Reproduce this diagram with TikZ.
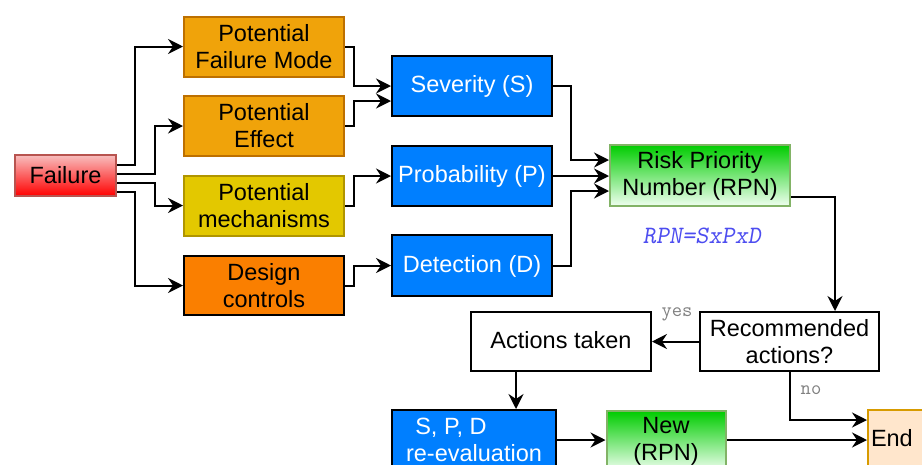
\documentclass[tikz,border=0pt]{standalone}
\usepackage{fontspec}
\setmainfont{Liberation Sans}
\usetikzlibrary{arrows.meta}
\definecolor{orA}{HTML}{F0A30A}
\definecolor{orAb}{HTML}{BD7000}
\definecolor{yel}{HTML}{E3C800}
\definecolor{yelb}{HTML}{B09500}
\definecolor{orD}{HTML}{FA7F00}
\definecolor{blu}{HTML}{007FFF}
\definecolor{grnb}{HTML}{82B366}
\definecolor{grnt}{HTML}{00CC00}
\definecolor{grnbot}{HTML}{F0FFF0}
\definecolor{endf}{HTML}{FFE6CC}
\definecolor{endb}{HTML}{D79B00}
\definecolor{redb}{HTML}{B85450}
\definecolor{redt}{HTML}{F8BEBE}
\definecolor{formc}{HTML}{4D4DF0}
\definecolor{lblc}{HTML}{808080}
\tikzset{
  box/.style={draw, line width=2pt, align=center, inner sep=0pt,
    font=\fontsize{23.5pt}{27pt}\selectfont},
  oneline/.style={text height=19pt, text depth=5.5pt},
  conn/.style={draw, line width=2pt, -{Stealth[length=15pt,width=15pt,inset=5pt]}},
  lbl/.style={font=\ttfamily\fontsize{20pt}{22pt}\selectfont, text=lblc, inner sep=0pt},
}
\begin{document}
\begin{tikzpicture}[x=1pt,y=-1pt]
\useasboundingbox (0,0) rectangle (922,464);
% nodes
\node[box, draw=redb, line width=2pt, top color=redt, bottom color=red,
  minimum width=101pt, minimum height=41pt] (fail) at (65.5,175.5) {Failure};
\node[box, draw=orAb, fill=orA, minimum width=160pt, minimum height=60pt] (pfm) at (264,46.5) {Potential\\Failure Mode};
\node[box, draw=orAb, fill=orA, minimum width=160pt, minimum height=60pt] (pe) at (264,126) {Potential\\Effect};
\node[box, draw=yelb, fill=yel, minimum width=160pt, minimum height=60pt] (pm) at (264,205.5) {Potential\\mechanisms};
\node[box, fill=orD, minimum width=160pt, minimum height=59pt] (dc) at (264,285.5) {Design\\controls};
\node[box, oneline, fill=blu, text=white, minimum width=160pt, minimum height=60pt] (sev) at (472,86) {Severity (S)};
\node[box, oneline, fill=blu, text=white, minimum width=160pt, minimum height=60pt] (prob) at (472,176) {Probability (P)};
\node[box, oneline, fill=blu, text=white, minimum width=160pt, minimum height=61pt] (det) at (472,265.5) {Detection (D)};
\node[box, draw=grnb, top color=grnt, bottom color=grnbot, minimum width=180pt, minimum height=61pt] (rpn) at (700,175.5) {Risk Priority\\Number (RPN)};
\node[font=\ttfamily\slshape\fontsize{25pt}{27pt}\selectfont, text=formc, inner sep=0pt] (formula) at (702,236) {RPN=SxPxD};
\node[box, fill=white, minimum width=179pt, minimum height=59pt] (rec) at (789.5,341.5) {Recommended\\actions?};
\node[box, oneline, fill=white, minimum width=180pt, minimum height=59pt] (act) at (561,341.5) {Actions taken};
\node[box, fill=blu, text=white, minimum width=164pt, minimum height=60pt] (spd) at (474,440) {S, P, D\hspace*{46pt}\\re-evaluation};
\node[box, draw=grnb, top color=grnt, bottom color=grnbot, minimum width=119pt, minimum height=60pt] (new) at (666,441) {New\\(RPN)};
\node[box, oneline, draw=endb, fill=endf, minimum width=60pt, minimum height=60pt, text width=60pt, align=left] (end) at (898,440) {\hspace*{3pt}End};
\node[lbl] (yes) at (677,314) {yes};
\node[lbl] (no) at (811,390) {no};
% connectors
\draw[conn] (fail.east |- 0,165) -- (135,165) |- (pfm.west);
\draw[conn] (fail.east |- 0,174) -- (155,174) |- (pe.west);
\draw[conn] (fail.east |- 0,183) -- (155,183) |- (pm.west);
\draw[conn] (fail.east |- 0,192) -- (135,192) |- (dc.west);
\draw[conn] (pfm.east) -- ++(9,0) |- (sev.west);
\draw[conn] (pe.east) -- ++(9,0) |- (sev.west |- 0,101);
\draw[conn] (pm.east) -- ++(9,0) |- (prob.west);
\draw[conn] (dc.east) -- ++(9,0) |- (det.west);
\draw[conn] (sev.east) -- (571,86) |- (rpn.west |- 0,160);
\draw[conn] (prob.east) -- (rpn.west |- prob.east);
\draw[conn] (det.east) -- (571,265.5) |- (rpn.west |- 0,191);
\draw[conn] (rpn.east |- 0,197) -| (rec.north -| 835,0);
\draw[conn] (rec.west) -- (act.east);
\draw[conn] (rec.south) |- (end.west |- 0,420);
\draw[conn] (act.south -| 516,0) -- (spd.north -| 516,0);
\draw[conn] (spd.east) -- (new.west |- spd.east);
\draw[conn] (new.east |- 0,440) -- (end.west |- 0,440);
\end{tikzpicture}
\end{document}
